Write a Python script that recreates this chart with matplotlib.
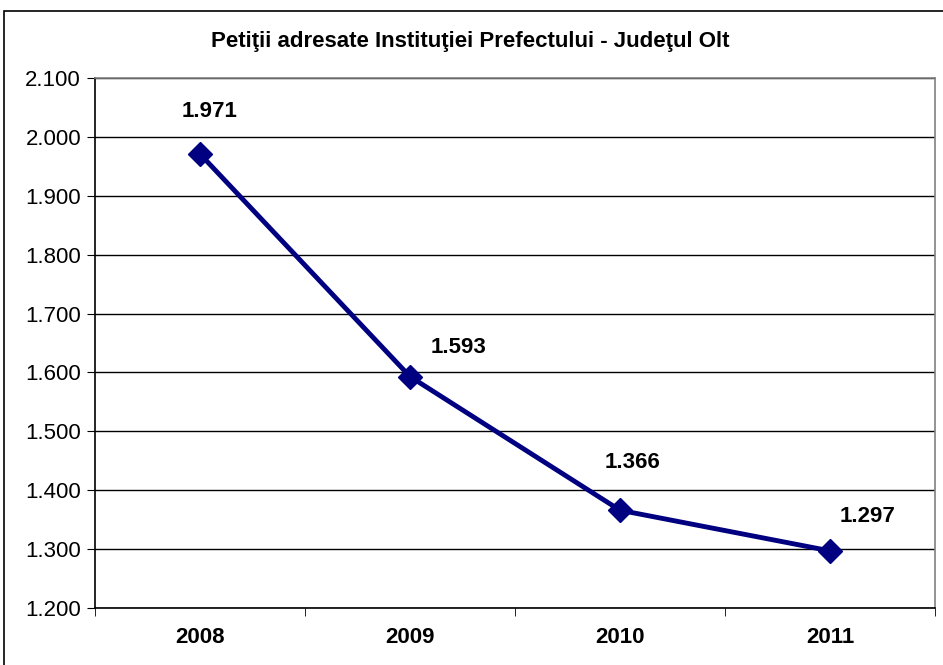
import matplotlib
matplotlib.use("Agg")
import matplotlib.pyplot as plt
from matplotlib.patches import Rectangle
from matplotlib.ticker import FixedLocator

plt.rcParams['font.family'] = ['Liberation Sans', 'DejaVu Sans']

# date
ani = ["2008", "2009", "2010", "2011"]
petitii = [1971, 1593, 1366, 1297]
etichete = ["1.971", "1.593", "1.366", "1.297"]
y_ticks = [1200, 1300, 1400, 1500, 1600, 1700, 1800, 1900, 2000, 2100]
y_labels = ["1.200", "1.300", "1.400", "1.500", "1.600", "1.700", "1.800", "1.900", "2.000", "2.100"]

# deplasari etichete (pixeli)
dx = [10, 48, 13, 38]
dy = [42, 29, 48, 34]

fig = plt.figure(figsize=(9.43, 6.65), dpi=100)
ax = fig.add_axes([95/943, 1-608/665, 840/943, 530/665])

x = range(len(ani))
ax.plot(x, petitii, color="#000080", lw=3.5, marker="D", ms=12, zorder=3)

for i in x:
    ax.annotate(etichete[i], (i, petitii[i]), xytext=(dx[i], dy[i]),
                textcoords="offset pixels", ha="center", va="center",
                fontsize=16, fontweight="bold")

ax.set_xlim(-0.5, 3.5)
ax.set_ylim(1200, 2100)
ax.set_yticks(y_ticks)
ax.set_yticklabels(y_labels, fontsize=16)
ax.set_xticks(list(x))
ax.set_xticklabels(ani, fontsize=16, fontweight="bold")
ax.tick_params(axis="x", length=0, pad=14)
ax.xaxis.set_minor_locator(FixedLocator([-0.5, 0.5, 1.5, 2.5, 3.5]))
ax.tick_params(axis="x", which="minor", length=6, color="black")
ax.tick_params(axis="y", length=6, color="black", pad=4)
ax.grid(axis="y", color="black", lw=1)
ax.set_axisbelow(True)

ax.spines["left"].set_color("black")
ax.spines["bottom"].set_color("black")
ax.spines["top"].set_color("#808080")
ax.spines["right"].set_color("#808080")
for s in ax.spines.values():
    s.set_linewidth(1.2)

fig.text(470/943, 1-42/665, "Petiţii adresate Instituţiei Prefectului - Judeţul Olt",
         ha="center", va="center", fontsize=16, fontweight="bold")

fig.add_artist(Rectangle((4/943, -0.1), 1.2, 1.1-11/665, transform=fig.transFigure,
                         fill=False, edgecolor="black", lw=1.2))

fig.savefig("out.png", dpi=100)
